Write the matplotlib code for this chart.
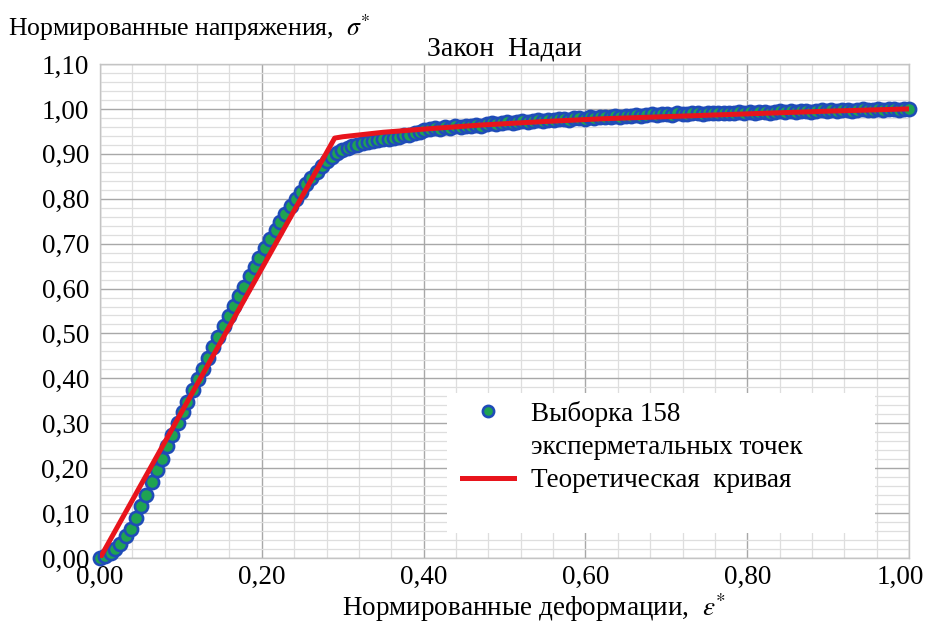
import matplotlib
matplotlib.use("Agg")
import matplotlib.pyplot as plt
from matplotlib.ticker import MultipleLocator, FixedLocator
from matplotlib.patches import Rectangle
from matplotlib.lines import Line2D
from matplotlib.transforms import ScaledTranslation

plt.rcParams['font.family'] = ['Liberation Serif', 'DejaVu Serif']
plt.rcParams['mathtext.fontset'] = 'stix'

# экспериментальные точки (158 шт.)
eps_exp = [
    0.000, 0.006, 0.013, 0.019, 0.025, 0.032, 0.038, 0.045, 0.051, 0.057,
    0.064, 0.070, 0.076, 0.083, 0.089, 0.096, 0.102, 0.108, 0.115, 0.121,
    0.127, 0.134, 0.140, 0.146, 0.153, 0.159, 0.166, 0.172, 0.178, 0.185,
    0.191, 0.197, 0.204, 0.210, 0.217, 0.223, 0.229, 0.236, 0.242, 0.248,
    0.255, 0.261, 0.268, 0.274, 0.280, 0.287, 0.293, 0.299, 0.306, 0.312,
    0.318, 0.325, 0.331, 0.338, 0.344, 0.350, 0.357, 0.363, 0.369, 0.376,
    0.382, 0.389, 0.395, 0.401, 0.408, 0.414, 0.420, 0.427, 0.433, 0.439,
    0.446, 0.452, 0.459, 0.465, 0.471, 0.478, 0.484, 0.490, 0.497, 0.503,
    0.510, 0.516, 0.522, 0.529, 0.535, 0.541, 0.548, 0.554, 0.561, 0.567,
    0.573, 0.580, 0.586, 0.592, 0.599, 0.605, 0.611, 0.618, 0.624, 0.631,
    0.637, 0.643, 0.650, 0.656, 0.662, 0.669, 0.675, 0.682, 0.688, 0.694,
    0.701, 0.707, 0.713, 0.720, 0.726, 0.732, 0.739, 0.745, 0.752, 0.758,
    0.764, 0.771, 0.777, 0.783, 0.790, 0.796, 0.803, 0.809, 0.815, 0.822,
    0.828, 0.834, 0.841, 0.847, 0.854, 0.860, 0.866, 0.873, 0.879, 0.885,
    0.892, 0.898, 0.904, 0.911, 0.917, 0.924, 0.930, 0.936, 0.943, 0.949,
    0.955, 0.962, 0.968, 0.975, 0.981, 0.987, 0.994, 1.000,
]
sig_exp = [
    0.000, 0.004, 0.012, 0.020, 0.032, 0.048, 0.064, 0.088, 0.116, 0.140,
    0.170, 0.196, 0.220, 0.250, 0.274, 0.300, 0.324, 0.348, 0.374, 0.398,
    0.420, 0.446, 0.470, 0.492, 0.516, 0.538, 0.562, 0.584, 0.604, 0.628,
    0.648, 0.668, 0.690, 0.710, 0.730, 0.748, 0.766, 0.784, 0.800, 0.816,
    0.832, 0.846, 0.860, 0.872, 0.884, 0.894, 0.902, 0.908, 0.913, 0.917,
    0.920, 0.923, 0.926, 0.928, 0.930, 0.932, 0.934, 0.936, 0.938, 0.941,
    0.943, 0.946, 0.949, 0.952, 0.955, 0.957, 0.955, 0.959, 0.958, 0.961,
    0.960, 0.963, 0.962, 0.965, 0.963, 0.966, 0.968, 0.966, 0.969, 0.970,
    0.968, 0.971, 0.972, 0.970, 0.973, 0.975, 0.974, 0.976, 0.975, 0.977,
    0.978, 0.976, 0.979, 0.980, 0.978, 0.981, 0.980, 0.982, 0.983, 0.981,
    0.984, 0.983, 0.985, 0.984, 0.986, 0.985, 0.987, 0.988, 0.986, 0.988,
    0.989, 0.987, 0.990, 0.989, 0.988, 0.990, 0.991, 0.989, 0.991, 0.990,
    0.992, 0.991, 0.990, 0.992, 0.993, 0.991, 0.993, 0.992, 0.994, 0.993,
    0.992, 0.994, 0.995, 0.993, 0.995, 0.994, 0.996, 0.995, 0.994, 0.996,
    0.997, 0.995, 0.997, 0.996, 0.998, 0.997, 0.996, 0.998, 0.999, 0.997,
    0.998, 0.999, 0.998, 1.000, 0.999, 0.998, 1.000, 1.000,
]

# теоретическая кривая
eps_teor = [0.000, 0.290, 0.300, 0.350, 0.400, 0.470, 0.550, 0.620, 0.720, 0.800, 0.900, 1.000]
sig_teor = [0.000, 0.935, 0.938, 0.948, 0.955, 0.964, 0.972, 0.978, 0.984, 0.989, 0.995, 1.000]

x_ticks = [0.0, 0.2, 0.4, 0.6, 0.8, 1.0]
x_labels = ["0,00", "0,20", "0,40", "0,60", "0,80", "1,00"]
y_ticks = [0.0, 0.1, 0.2, 0.3, 0.4, 0.5, 0.6, 0.7, 0.8, 0.9, 1.0, 1.1]
y_labels = ["0,00", "0,10", "0,20", "0,30", "0,40", "0,50", "0,60", "0,70",
            "0,80", "0,90", "1,00", "1,10"]

fig = plt.figure(figsize=(9.28, 6.25), dpi=100)
ax = fig.add_axes([0.1078, 0.1072, 0.8718, 0.7904])

ax.set_xlim(0, 1.0)
ax.set_ylim(0, 1.1)
ax.xaxis.set_major_locator(FixedLocator(x_ticks))
ax.yaxis.set_major_locator(FixedLocator(y_ticks))
ax.xaxis.set_minor_locator(MultipleLocator(0.04))
ax.yaxis.set_minor_locator(MultipleLocator(0.02))
ax.set_xticklabels(x_labels, fontsize=19.5)
ax.set_yticklabels(y_labels, fontsize=19.5)
ax.tick_params(which='both', length=0)
ax.tick_params(axis='x', pad=5)
ax.tick_params(axis='y', pad=8)

# последняя подпись по оси x чуть левее, чтобы не обрезалась
lbl = ax.get_xticklabels()[-1]
lbl.set_transform(lbl.get_transform() + ScaledTranslation(-6 / 72, 0, fig.dpi_scale_trans))

ax.grid(which='major', color='#a8a8a8', lw=1.0)
ax.grid(which='minor', color='#dedede', lw=0.9)
ax.set_axisbelow(True)
for s in ax.spines.values():
    s.set_color('#c4c4c4')
    s.set_linewidth(1.0)

pts, = ax.plot(eps_exp, sig_exp, 'o', ms=9.5, mfc='#1fa352', mec='#1f4cb8', mew=1.9,
               clip_on=False, zorder=3)
teor, = ax.plot(eps_teor, sig_teor, color='#e8141c', lw=3.6, zorder=4,
                solid_joinstyle='round')

# белый фон легенды
ax.add_patch(Rectangle((0.429, 0.051), 0.529, 0.283, transform=ax.transAxes,
                       facecolor='white', edgecolor='none', zorder=5))
pustoy = Line2D([], [], linestyle='none')
leg = ax.legend([pts, pustoy, teor],
                ["Выборка 158", "эксперметальных точек", "Теоретическая  кривая"],
                loc='upper left', bbox_to_anchor=(0.4475, 0.318), frameon=False,
                fontsize=19.5, handlelength=1.9, handletextpad=0.63,
                labelspacing=0.3, markerscale=0.85,
                borderpad=0, borderaxespad=0)
leg.set_zorder(6)

ax.set_title("Закон  Надаи", fontsize=20, pad=6)
ax.set_xlabel("Нормированные деформации,  $\\varepsilon^{*}$", fontsize=19.5)
ax.xaxis.set_label_coords(0.536, -0.068)
fig.text(0.009, 0.955, "Нормированные напряжения,  $\\sigma^{*}$", fontsize=18.5,
         ha='left', va='center')

fig.savefig("out.png", dpi=100)
